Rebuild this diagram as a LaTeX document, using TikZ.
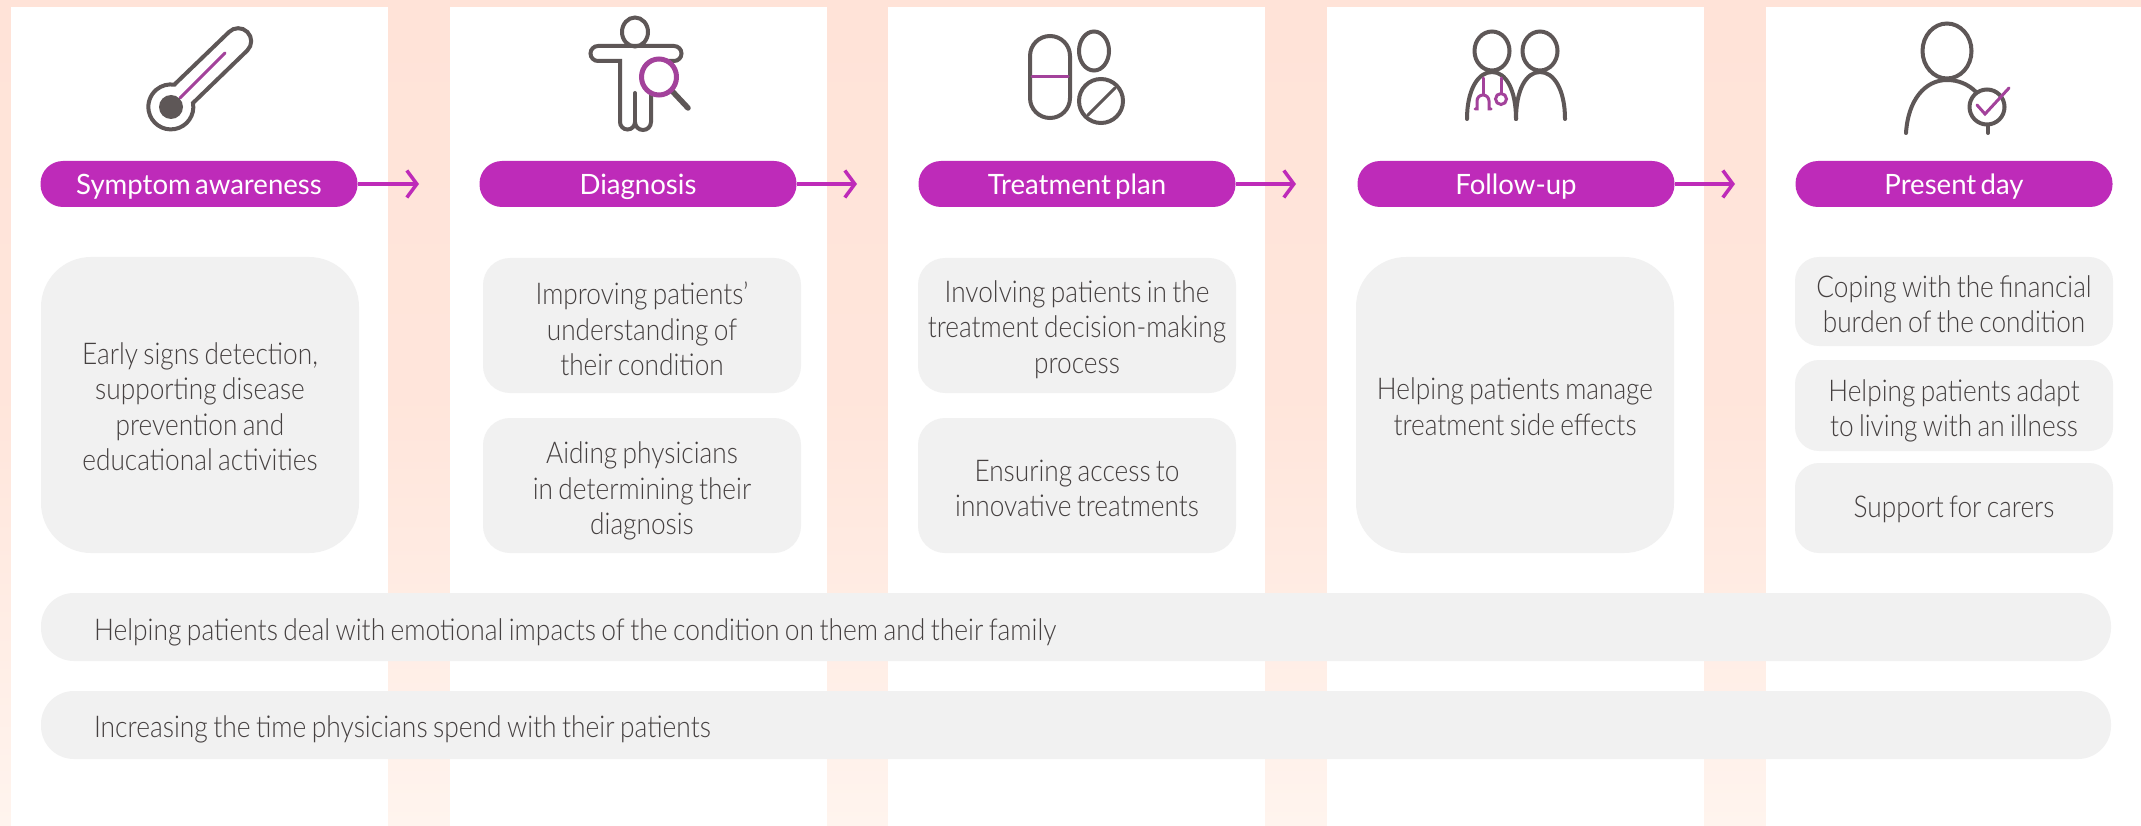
\documentclass[tikz,border=0pt]{standalone}
\usepackage{fontspec}
\setmainfont[FakeStretch=0.875,WordSpace=0.75]{Lato Light}
\newfontfamily\barfont[FakeStretch=0.88,WordSpace=0.75]{Lato Light}
\newfontfamily\pillfont[FakeStretch=0.985,WordSpace=0.6]{Lato}
\usetikzlibrary{arrows.meta}
\definecolor{pillcol}{HTML}{BE2BB9}
\definecolor{iconpurple}{HTML}{A3429B}
\definecolor{icongray}{HTML}{5E5757}
\definecolor{boxgray}{HTML}{F1F1F1}
\definecolor{textgray}{HTML}{454040}
\definecolor{peach}{HTML}{FFE3D8}
\definecolor{peachlow}{HTML}{FFF4EE}
\tikzset{
  textdrop/.style={execute at begin node={\rule{0pt}{#1}}},
  pill/.style={fill=pillcol, text=white, rounded corners=22.5pt, minimum height=46pt, text width=317pt, inner sep=0pt, align=flush center, textdrop=26pt, font=\pillfont\fontsize{28}{32}\selectfont},
  flow/.style={pillcol, line width=3.5pt, -{Straight Barb[length=10pt, width=27pt]}},
  card/.style={fill=boxgray, text=textgray, text width=318pt, inner sep=0pt, align=flush center, font=\fontsize{30}{35.5}\selectfont},
  bar/.style={fill=boxgray, text=textgray, rounded corners=33pt, minimum height=68pt, text width=1964pt, inner xsep=53pt, inner ysep=0pt, align=flush left, font=\barfont\fontsize{30}{35}\selectfont},
  icon/.style={icongray, line width=4pt, line cap=round},
  accent/.style={iconpurple, line width=3pt, line cap=round}
}

\begin{document}
\begin{tikzpicture}[x=1pt, y=-1pt]
        \useasboundingbox (0, 0) rectangle (2141, 826);

        % backdrop and columns
        \shade[top color=peach, bottom color=peachlow, middle color=peach!85!peachlow] (0, 0) rectangle (2141, 826);
        \fill[white] (11, 7) rectangle (388, 826);
        \fill[white] (450, 7) rectangle (827, 826);
        \fill[white] (888, 7) rectangle (1265, 826);
        \fill[white] (1327, 7) rectangle (1704, 826);
        \fill[white] (1766, 7) rectangle (2141, 826);

        % stage pills
        \node[pill] (symptom) at (199, 184) {Symptom awareness};
        \node[pill] (diagnosis) at (638, 184) {Diagnosis};
        \node[pill] (plan) at (1077, 184) {Treatment plan};
        \node[pill] (followup) at (1516, 184) {Follow-up};
        \node[pill] (present) at (1954, 184) {Present day};

        \coordinate (symptomtip) at (419, 184);
        \coordinate (diagnosistip) at (857, 184);
        \coordinate (plantip) at (1296, 184);
        \coordinate (followuptip) at (1735, 184);

        \draw[flow] (symptom) -- (symptomtip);
        \draw[flow] (diagnosis) -- (diagnosistip);
        \draw[flow] (plan) -- (plantip);
        \draw[flow] (followup) -- (followuptip);

        % cards
        \node[card, minimum height=296pt, rounded corners=50pt, textdrop=25pt] (early) at (200, 405) {Early signs detection,\\supporting disease\\prevention and\\educational activities};

        \node[card, minimum height=135pt, rounded corners=27pt, textdrop=30pt] (improving) at (642, 325.5) {Improving patients’\\understanding of\\their condition};
        \node[card, minimum height=135pt, rounded corners=27pt, textdrop=33pt] (aiding) at (642, 485.5) {Aiding physicians\\in determining their\\diagnosis};

        \node[card, minimum height=135pt, rounded corners=27pt, textdrop=30pt] (involving) at (1077, 325.5) {Involving patients in the\\treatment decision-making\\process};
        \node[card, minimum height=135pt, rounded corners=27pt, textdrop=27.5pt] (access) at (1077, 485.5) {Ensuring access to\\innovative treatments};

        \node[card, minimum height=296pt, rounded corners=50pt, textdrop=25pt] (effects) at (1515, 405) {Helping patients manage\\treatment side effects};

        \node[card, minimum height=89pt, rounded corners=24pt, textdrop=27.5pt] (financial) at (1954, 301.5) {Coping with the financial\\burden of the condition};
        \node[card, minimum height=91pt, rounded corners=24pt, textdrop=33pt] (adapt) at (1954, 405.5) {Helping patients adapt\\to living with an illness};
        \node[card, minimum height=90pt, rounded corners=24pt, textdrop=25pt] (carers) at (1954, 508) {Support for carers};

        \node[bar, textdrop=33pt] (emotional) at (1076, 627) {Helping patients deal with emotional impacts of the condition on them and their family};
        \node[bar, textdrop=30pt] (time) at (1076, 725) {Increasing the time physicians spend with their patients};

        % thermometer
        \draw[icon] (175, 84) -- (229, 32) arc[start angle=-135, end angle=45, radius=13] -- (193, 103) arc[start angle=-10, end angle=280, radius=22.5];
        \draw[accent] (180, 98) -- (225, 53);
        \fill[icongray] (171, 107) circle[radius=12];

        % body with magnifier
        \draw[icon] (635, 32) ellipse[x radius=13, y radius=14.5];
        \draw[icon] (666, 61) -- (674, 61) arc[start angle=90, end angle=-90, radius=7.5] -- (598, 46) arc[start angle=-90, end angle=-270, radius=7.5] -- (620, 61) -- (620, 122) arc[start angle=180, end angle=0, radius=7.5] arc[start angle=180, end angle=0, radius=8] -- (651, 95);
        \draw[icon] (635, 93) -- (635, 122);
        \draw[icon, line width=5.5pt] (673, 92) -- (688, 108);
        \draw[accent, line width=5pt] (659, 77) ellipse[x radius=17.5, y radius=18];

        % tablets
        \draw[icon] (1030, 56) arc[start angle=180, end angle=360, radius=20] -- (1070, 98) arc[start angle=0, end angle=180, radius=20] -- cycle;
        \draw[accent] (1032, 77) -- (1068, 77);
        \draw[icon] (1094, 51) ellipse[x radius=15, y radius=19.5];
        \draw[icon] (1101, 101) circle[radius=22];
        \draw[icon, line width=3pt] (1088, 115) -- (1115, 88);

        % doctor and patient
        \draw[icon] (1492, 51) ellipse[x radius=17.5, y radius=19.5];
        \draw[icon] (1540, 51) ellipse[x radius=17.5, y radius=19.5];
        \draw[icon] (1467, 119) .. controls (1467, 90) and (1478, 72) .. (1492, 72) .. controls (1506, 72) and (1516, 90) .. (1516, 119);
        \draw[icon] (1516, 119) .. controls (1516, 90) and (1526, 72) .. (1540, 72) .. controls (1554, 72) and (1565, 90) .. (1565, 119);
        \draw[accent] (1483, 78) -- (1483, 94);
        \draw[accent] (1475, 109) -- (1477, 109) -- (1477, 101) arc[start angle=180, end angle=360, radius=6] -- (1489, 109) -- (1491, 109);
        \draw[accent] (1501, 78) -- (1501, 93);
        \draw[accent] (1501, 99) circle[radius=5.5];

        % person with check
        \draw[icon] (1947, 51) ellipse[x radius=24.5, y radius=27.5];
        \draw[icon] (1906, 133) .. controls (1908, 100) and (1925, 80) .. (1947, 80) .. controls (1958, 80) and (1968, 84) .. (1976, 92);
        \draw[icon] (1987, 107) circle[radius=17.5];
        \draw[icon] (1988, 126) -- (1988, 133);
        \draw[accent] (1977, 105) -- (1985, 114) -- (2009, 88);
    \end{tikzpicture}
\end{document}
